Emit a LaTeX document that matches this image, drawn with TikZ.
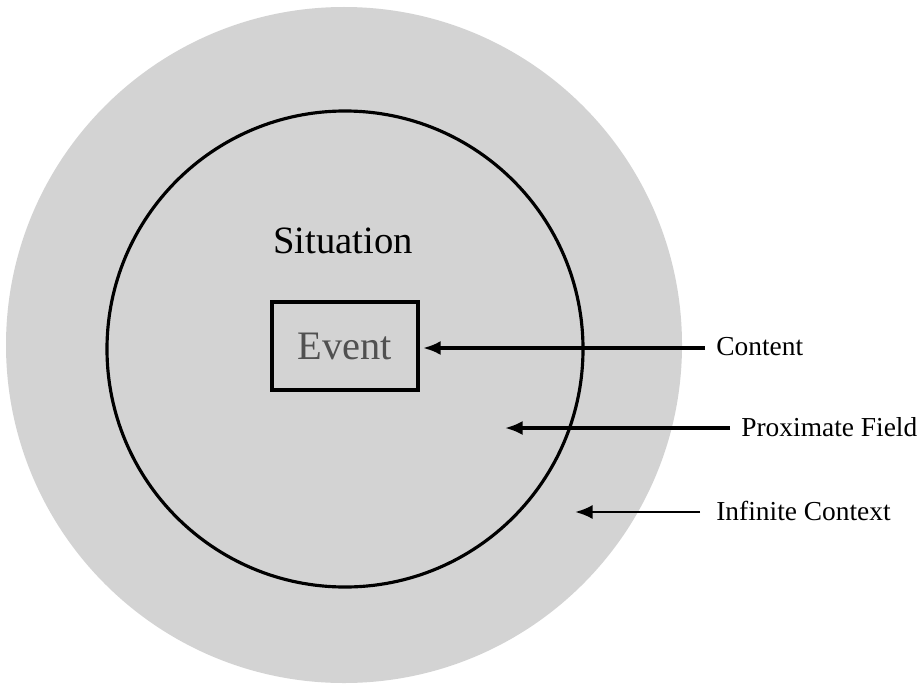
\documentclass[tikz,border=0pt]{standalone}
\usepackage{fontspec}
\setmainfont{Liberation Serif}
\usetikzlibrary{arrows.meta,positioning}
\definecolor{fieldgray}{RGB}{211,211,211}
\definecolor{eventgray}{RGB}{80,80,80}

\begin{document}
\begin{tikzpicture}[>={Latex[length=10pt,width=8pt]},font=\fontsize{15.6}{18}\selectfont]
\tikzstyle{ring}=[draw=black,line width=1.8pt]
\tikzstyle{lbl}=[anchor=west,inner sep=0pt]
\tikzstyle{pointer}=[->,line width=1.8pt]
\useasboundingbox (0,0) rectangle (18.4,13.7);
\fill[fieldgray] (6.88,6.80) circle (6.76cm);
\draw[ring] (6.90,6.72) circle (4.76cm);
\node[font=\fontsize{22}{24}\selectfont] (situation) at (6.86,8.88) {Situation};
\node[draw,line width=1.8pt,minimum width=2.92cm,minimum height=1.76cm,text=eventgray,font=\fontsize{23}{25}\selectfont] (event) at (6.90,6.78) {Event};
% labels on the right
\node[lbl] (content) at (14.32,6.76) {Content};
\node[lbl] (proximate) at (14.82,5.16) {Proximate Field};
\node[lbl] (infinite) at (14.32,3.48) {Infinite Context};
\coordinate (fieldtip) at (10.10,5.14);
\coordinate (contexttip) at (11.50,3.46);
\draw[pointer,shorten >=2pt] (14.10,6.74) coordinate (c0) -- (event.east |- c0);
\draw[pointer] (14.60,5.14) -- (fieldtip);
\draw[pointer,line width=1.5pt] (14.00,3.46) -- (contexttip);
\end{tikzpicture}
\end{document}
